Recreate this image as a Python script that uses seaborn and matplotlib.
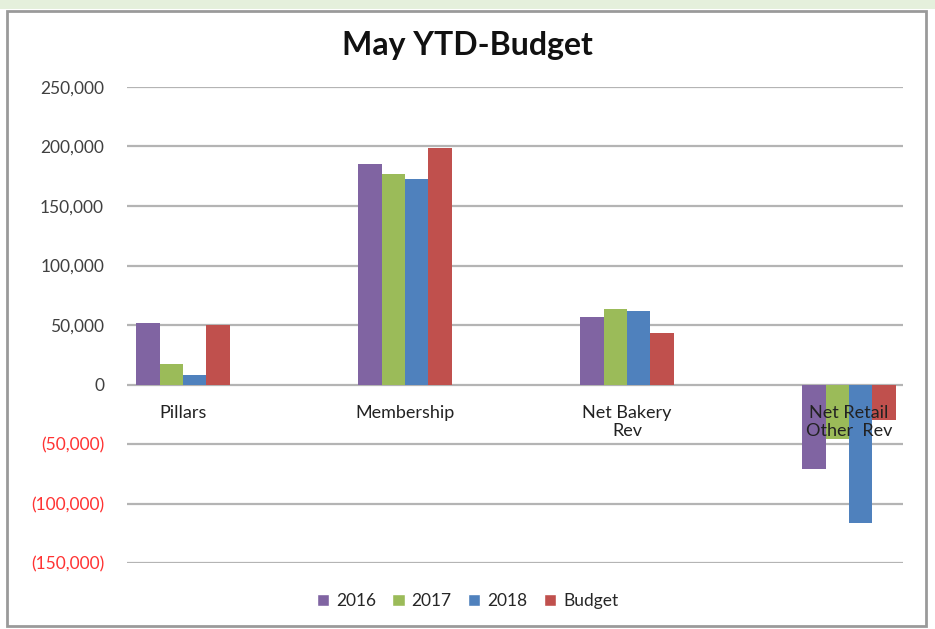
import numpy as np
import pandas as pd
import matplotlib
matplotlib.use("Agg")
import matplotlib.pyplot as plt
from matplotlib.patches import Rectangle, Patch
import seaborn as sns

categories = ["Pillars", "Membership", "Net Bakery\nRev", "Net Retail\nOther  Rev"]
series = ["2016", "2017", "2018", "Budget"]
v2016 = [51300, 185200, 56800, -70700]
v2017 = [17300, 176800, 63100, -46000]
v2018 = [7800, 172600, 61800, -116000]
vbudget = [49700, 198500, 42900, -29500]
colors = ["#8064A2", "#9BBB59", "#4F81BD", "#C0504D"]
yticks = [-150000, -100000, -50000, 0, 50000, 100000, 150000, 200000, 250000]

rows = []
for s, vals in zip(series, [v2016, v2017, v2018, vbudget]):
    for c, v in zip(categories, vals):
        rows.append({"cat": c, "series": s, "value": v})
df = pd.DataFrame(rows)

sns.set_style("white")
plt.rcParams["font.family"] = ["Lato", "DejaVu Sans"]

fig = plt.figure(figsize=(9.35, 6.29), dpi=100)
ax = fig.add_axes([0.1358, 0.1049, 0.830, 0.7568])

sns.barplot(data=df, x="cat", y="value", hue="series", hue_order=series,
            palette=colors, width=0.42, gap=0, saturation=1, errorbar=None,
            ax=ax, linewidth=0)
ax.get_legend().remove()

ax.set_xlim(-0.252, 3.243)
ax.set_ylim(-150000, 250000)
ax.set_yticks(yticks)
labels = []
for t in yticks:
    if t < 0:
        labels.append("({:,})".format(abs(t)))
    elif t == 0:
        labels.append("0")
    else:
        labels.append("{:,}".format(t))
ax.set_yticklabels(labels, fontsize=12.5)
for lab, t in zip(ax.get_yticklabels(), yticks):
    lab.set_color("#ff3333" if t < 0 else "#404040")
ax.tick_params(axis="y", length=0, pad=16.5)
ax.set_xticks([])
ax.set_xlabel("")
ax.set_ylabel("")
for sp in ax.spines.values():
    sp.set_visible(False)
ax.yaxis.grid(True, color="#b4b4b4", linewidth=1.6)
ax.set_axisbelow(True)

# category labels sit just under the zero line
for i, c in enumerate(categories):
    ax.text(i, -17500, c, ha="center", va="top", fontsize=13,
            color="#222222", linespacing=1.15)

fig.text(0.5, 0.928, "May YTD-Budget", ha="center", va="center",
         fontsize=23, fontweight="bold", color="#111111")

handles = [Patch(facecolor=col, label=s) for col, s in zip(colors, series)]
fig.legend(handles=handles, loc="center", bbox_to_anchor=(0.5, 0.045), ncol=4,
           frameon=False, fontsize=12.5, handlelength=0.7, handleheight=0.7,
           handletextpad=0.4, columnspacing=0.95)

# page strip and chart border
fig.patches.append(Rectangle((0, 0.985), 1, 0.015, transform=fig.transFigure,
                             facecolor="#e5f0dc", edgecolor="none", zorder=0))
fig.patches.append(Rectangle((0.008, 0.004), 0.982, 0.979, transform=fig.transFigure,
                             facecolor="none", edgecolor="#9a9a9a", linewidth=2, zorder=1))

fig.savefig("out.png", dpi=100)
